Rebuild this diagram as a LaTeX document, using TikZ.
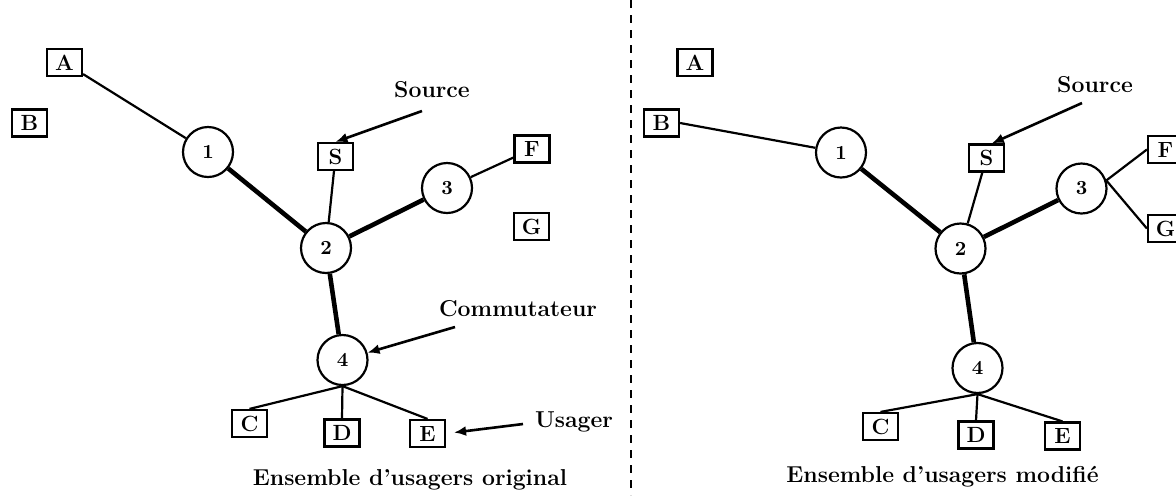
\documentclass[tikz,border=0pt]{standalone}
\usetikzlibrary{arrows.meta}
\begin{document}
\begin{tikzpicture}[x=0.5pt,y=-0.5pt,
  user/.style={draw,line width=1.1pt,rectangle,minimum width=17.5pt,minimum height=13.5pt,inner sep=0pt,font=\fontsize{11}{13}\selectfont\bfseries},
  switch/.style={draw,line width=1.1pt,circle,minimum size=25pt,inner sep=0pt,font=\fontsize{10}{12}\selectfont\bfseries},
  thin link/.style={line width=1.1pt},
  trunk/.style={line width=2.3pt},
  label text/.style={font=\fontsize{11.5}{14}\selectfont\bfseries,inner sep=0pt,anchor=base},
  pointer/.style={line width=1.3pt,-{Latex[length=6pt,width=5pt]}}]
\useasboundingbox (0,0) rectangle (1176,495);
\clip (0,0) rectangle (1176,495);

% separator between the two configurations
\draw[line width=1pt,dash pattern=on 4pt off 3.5pt] (631,0) -- (631,495);

% ---------- original set of users ----------
\node[user]   (LA) at (64.5,62.5) {A};
\node[user]   (LB) at (29.5,123)  {B};
\node[switch] (L1) at (208,152)   {1};
\node[user]   (LS) at (335.5,156.5) {S};
\node[switch] (L3) at (447,188)   {3};
\node[user]   (LF) at (532,149)   {F};
\node[user]   (LG) at (531.5,226.5) {G};
\node[switch] (L2) at (326,248)   {2};
\node[switch] (L4) at (342.5,360) {4};
\node[user]   (LC) at (249.5,423.5) {C};
\node[user]   (LD) at (342,433)   {D};
\node[user]   (LE) at (427.5,433.5) {E};

\draw[thin link] (LA) -- (L1);
\draw[thin link] (LS) -- (L2);
\draw[thin link] (L3) -- (LF);
\draw[trunk] (L1) -- (L2);
\draw[trunk] (L2) -- (L3);
\draw[trunk] (L2) -- (L4);
\draw[thin link] (L4.south) -- (LC.north);
\draw[thin link] (L4.south) -- (LD.north);
\draw[thin link] (L4.south) -- (LE.north);

\node[label text] (srcL) at (432,97) {Source};
\coordinate (srcLt) at (422,111);
\draw[pointer] (srcLt) -- (LS.north);

\node[label text] (comL) at (518,316) {Commutateur};
\coordinate (comLt) at (455,327);
\draw[pointer] (comLt) -- (L4);

\node[label text] (usrL) at (574,427) {Usager};
\coordinate (usrLt) at (523,424);
\draw[pointer,shorten >=4pt] (usrLt) -- (LE.east);

\node[label text] (capL) at (410,485) {Ensemble d'usagers original};

% ---------- modified set of users ----------
\node[user]   (RA) at (695,62.5)  {A};
\node[user]   (RB) at (661.5,123) {B};
\node[switch] (R1) at (841,152.5) {1};
\node[user]   (RS) at (986.5,158) {S};
\node[switch] (R3) at (1081.5,188.5) {3};
\node[user]   (RF) at (1165.5,149.5) {F};
\node[user]   (RG) at (1165.5,228.5) {G};
\node[switch] (R2) at (960.5,248.5) {2};
\node[switch] (R4) at (977.5,368) {4};
\node[user]   (RC) at (880.5,426.5) {C};
\node[user]   (RD) at (976,435)   {D};
\node[user]   (RE) at (1062.5,436) {E};

\draw[thin link] (RB.east) -- (R1);
\draw[thin link] (RS) -- (R2);
\draw[thin link] (R3.18) -- (RF.west);
\draw[thin link] (R3.18) -- (RG.west);
\draw[trunk] (R1) -- (R2);
\draw[trunk] (R2) -- (R3);
\draw[trunk] (R2) -- (R4);
\draw[thin link] (R4.south) -- (RC.north);
\draw[thin link] (R4.south) -- (RD.north);
\draw[thin link] (R4.south) -- (RE.north);

\node[label text] (srcR) at (1095,92) {Source};
\coordinate (srcRt) at (1082,103);
\draw[pointer] (srcRt) -- (RS.70);

\node[label text] (capR) at (942.5,482) {Ensemble d'usagers modifié};
\end{tikzpicture}
\end{document}
